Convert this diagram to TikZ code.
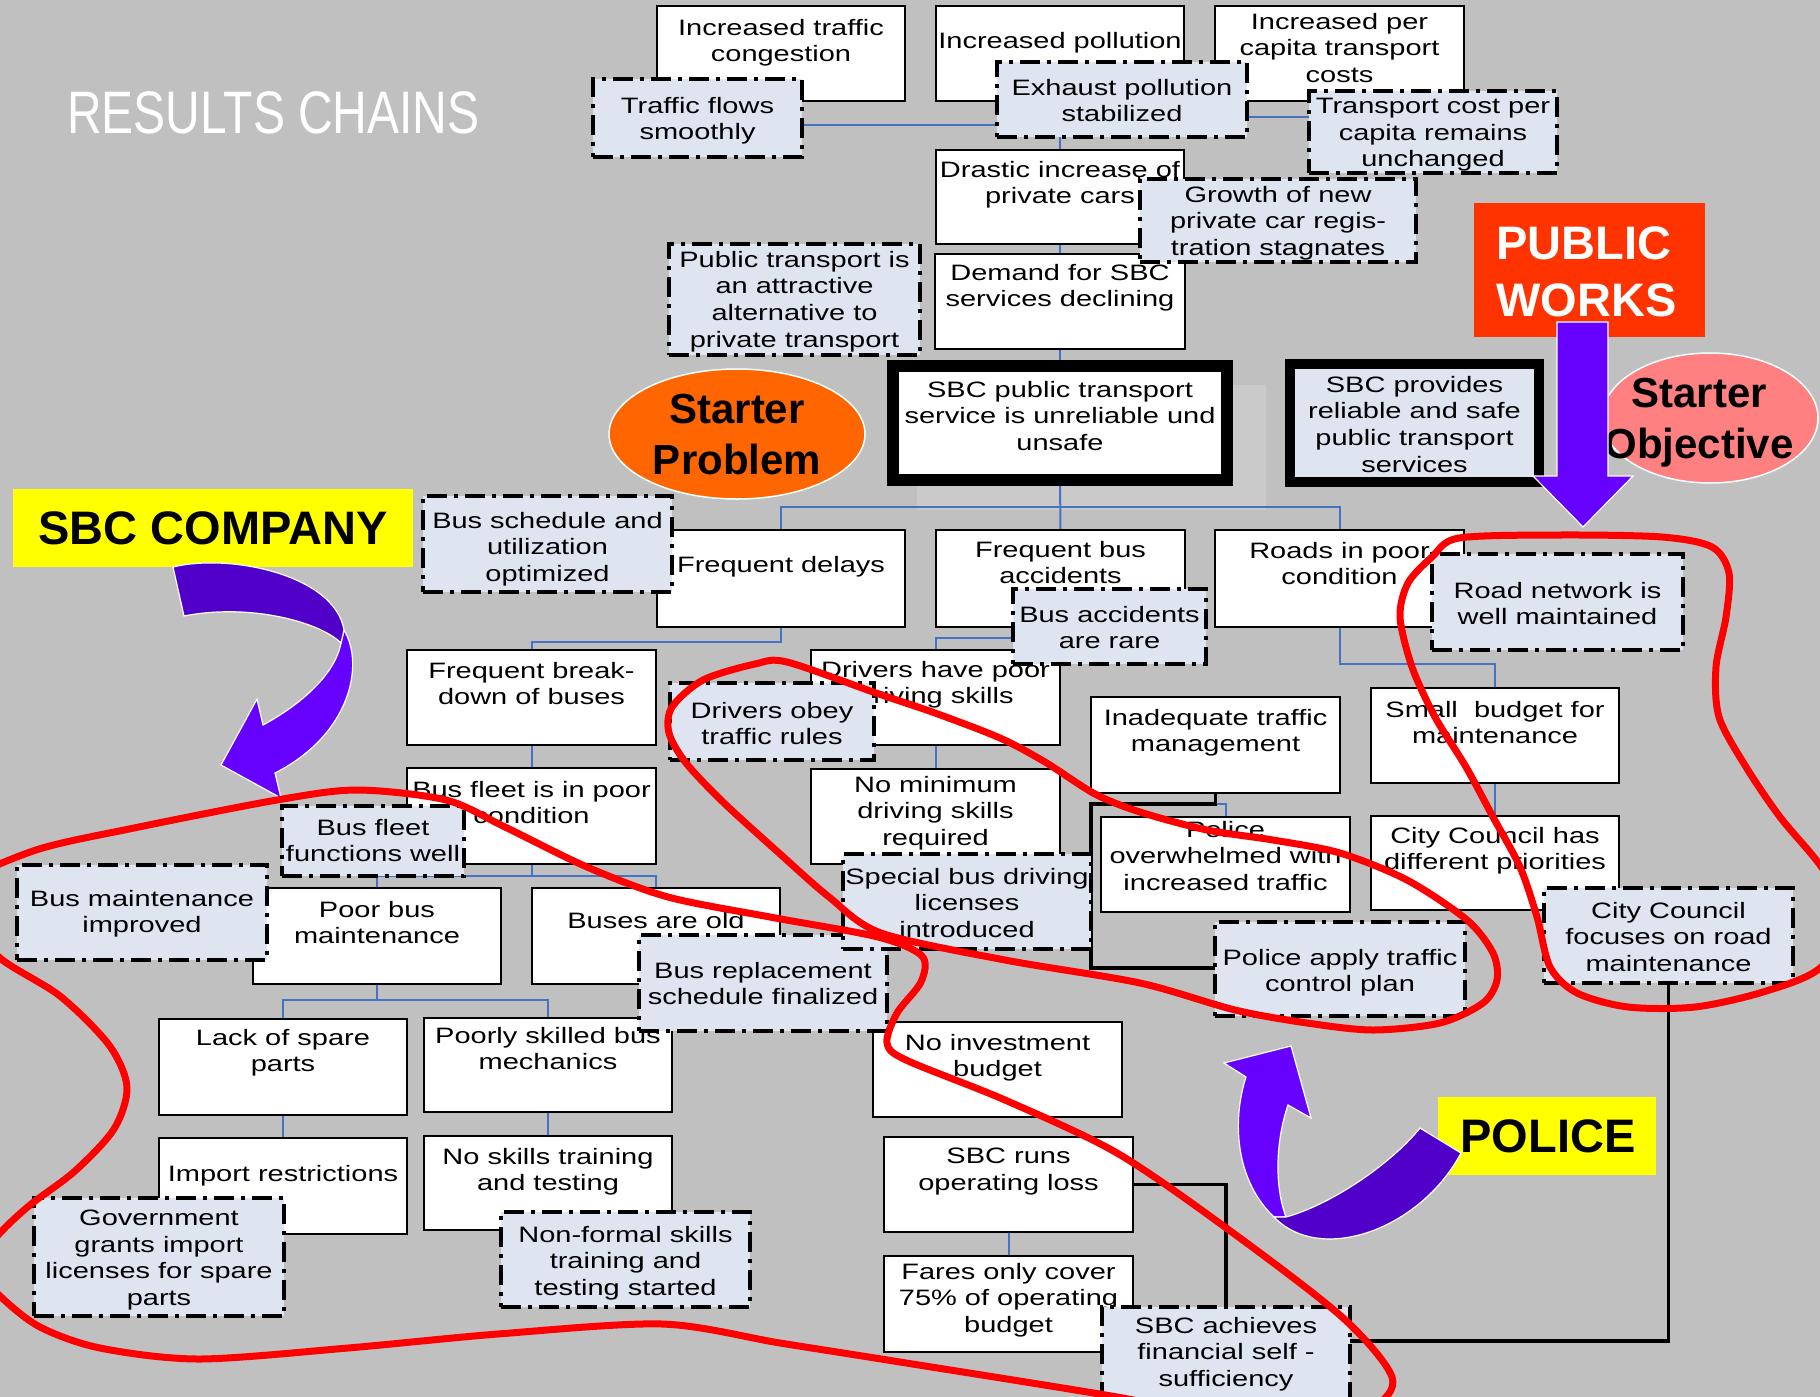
\documentclass[tikz,border=0pt]{standalone}
\usepackage{fontspec}
\setmainfont{Liberation Sans}
\newfontfamily\boxfont[FakeStretch=1.3]{Liberation Sans}
\newfontfamily\labfont{Liberation Sans}
\newfontfamily\titlefont[FakeStretch=0.8]{Liberation Sans}
\usetikzlibrary{shapes.geometric}
\definecolor{bgcol}{RGB}{192,192,192}
\definecolor{shadowgray}{RGB}{202,202,202}
\definecolor{goalfill}{RGB}{222,228,240}
\definecolor{connblue}{RGB}{68,114,196}
\definecolor{pwred}{RGB}{255,51,0}
\definecolor{yel}{RGB}{255,255,0}
\definecolor{orng}{RGB}{255,102,0}
\definecolor{objpink}{RGB}{255,128,128}
\definecolor{arrbright}{RGB}{102,0,255}
\definecolor{arrdark}{RGB}{80,0,200}
\pgfdeclarelayer{back}
\pgfdeclarelayer{conlayer}
\pgfsetlayers{back,conlayer,main}
\tikzset{
  wbox/.style={draw=black, line width=2.2pt, fill=white, inner sep=0pt, outer sep=0pt},
  gbox/.style={draw=black, line width=3.8pt, fill=goalfill, dash pattern=on 20pt off 7pt on 4pt off 7pt, inner sep=0pt, outer sep=0pt},
  corebox/.style={draw=black, line width=12pt, fill=white, inner sep=0pt, outer sep=0pt},
  objbox/.style={draw=black, line width=10pt, fill=goalfill, inner sep=0pt, outer sep=0pt},
  txt/.style={font={\boxfont\fontsize{22.3}{26.6}\selectfont}, align=center, inner sep=0pt, text=black},
  conn/.style={draw=connblue, line width=2pt},
  bconn/.style={draw=black, line width=3.5pt},
  redloop/.style={draw=red, line width=7pt, line cap=round, line join=round},
  arr/.style={draw=white, line width=1.2pt},
  labtxt/.style={font={\labfont\bfseries\fontsize{47}{57}\selectfont}, inner sep=0pt, anchor=north, align=center},
  startxt/.style={font={\labfont\bfseries\fontsize{42}{51}\selectfont}, inner sep=0pt, anchor=north, align=center},
}
\newcommand\bx[8]{%
  \node[#1, anchor=north west, minimum width={(#5-#3)*1pt}, minimum height={(#6-#4)*1pt}] (#2) at (#3,#4) {};
  \node[txt, anchor=north] (#2-t) at ({(#3+#5)/2},{#7-16}) {#8};
}
\begin{document}
\begin{tikzpicture}[x=1pt,y=-1pt]
\useasboundingbox (0,0) rectangle (1820,1397);
\begin{pgfonlayer}{back}
  \fill[bgcol] (0,0) rectangle (1820,1397);
  \fill[shadowgray] (917,385) rectangle (1266,510);
\end{pgfonlayer}

% title
\node[font={\titlefont\fontsize{60}{72}\selectfont}, text=white, anchor=base west, inner sep=0pt] (title) at (67,133) {RESULTS CHAINS};

% white boxes
\bx{wbox}{b1}{657}{6}{905}{101}{35}{Increased traffic\\congestion}
\bx{wbox}{b2}{936}{6}{1184}{101}{48}{Increased pollution}
\bx{wbox}{b3}{1215}{6}{1464}{101}{29}{Increased per\\capita transport\\costs}
\bx{wbox}{b4}{936}{150}{1184}{244}{177}{Drastic increase of\\private cars}
\bx{wbox}{b5}{935}{254}{1185}{349}{280}{Demand for SBC\\services declining}
\bx{wbox}{b6}{657}{530}{905}{627}{572}{Frequent delays}
\bx{wbox}{b7}{936}{530}{1185}{627}{557}{Frequent bus\\accidents}
\bx{wbox}{b8}{1215}{530}{1464}{627}{558}{Roads in poor\\condition}
\bx{wbox}{b9}{407}{650}{656}{745}{678}{Frequent break-\\down of buses}
\bx{wbox}{b10}{407}{768}{656}{864}{797}{Bus fleet is in poor\\condition}
\bx{wbox}{b11}{253}{888}{501}{984}{917}{Poor bus\\maintenance}
\bx{wbox}{b12}{532}{888}{780}{984}{928}{Buses are old}
\bx{wbox}{b13}{159}{1019}{407}{1115}{1045}{Lack of spare\\parts}
\bx{wbox}{b14}{424}{1018}{672}{1112}{1043}{Poorly skilled bus\\mechanics}
\bx{wbox}{b15}{159}{1138}{407}{1234}{1181}{Import restrictions}
\bx{wbox}{b16}{424}{1136}{672}{1230}{1164}{No skills training\\and testing}
\bx{wbox}{b17}{811}{650}{1060}{745}{677}{Drivers have poor\\driving skills}
\bx{wbox}{b18}{811}{769}{1060}{864}{792}{No minimum\\driving skills\\required}
\bx{wbox}{b19}{1091}{697}{1340}{793}{725}{Inadequate traffic\\management}
\bx{wbox}{b20}{1101}{817}{1350}{912}{837}{Police\\overwhelmed with\\increased traffic}
\bx{wbox}{b21}{1371}{688}{1619}{783}{717}{Small\ \ budget for\\maintenance}
\bx{wbox}{b22}{1371}{816}{1619}{910}{843}{City Council has\\different priorities}
\bx{wbox}{b23}{873}{1022}{1122}{1117}{1050}{No investment\\budget}
\bx{wbox}{b24}{884}{1137}{1133}{1232}{1164}{SBC runs\\operating loss}
\bx{wbox}{b25}{884}{1256}{1133}{1352}{1279}{Fares only cover\\75\% of operating\\budget}

% core problem and objective
\bx{corebox}{core}{893}{366}{1227}{480}{397}{SBC public transport\\service is unreliable und\\unsafe}
\bx{objbox}{obj}{1290}{364}{1539}{482}{392}{SBC provides\\reliable and safe\\public transport\\services}

% goal boxes
\bx{gbox}{g1}{593}{79}{802}{157}{113}{Traffic flows\\smoothly}
\bx{gbox}{g2}{997}{62}{1247}{137}{95}{Exhaust pollution\\stabilized}
\bx{gbox}{g3}{1309}{91}{1557}{173}{114}{Transport cost per\\capita remains\\unchanged}
\bx{gbox}{g4}{1140}{179}{1416}{262}{202}{Growth of new\\private car regis-\\tration stagnates}
\bx{gbox}{g5}{669}{244}{920}{355}{267}{Public transport is\\an attractive\\alternative to\\private transport}
\bx{gbox}{g6}{423}{496}{672}{592}{528}{Bus schedule and\\utilization\\optimized}
\bx{gbox}{g7}{1013}{589}{1206}{664}{622}{Bus accidents\\are rare}
\bx{gbox}{g8}{1432}{554}{1683}{650}{598}{Road network is\\well maintained}
\bx{gbox}{g9}{282}{806}{464}{876}{835}{Bus fleet\\functions well}
\bx{gbox}{g10}{17}{865}{267}{960}{906}{Bus maintenance\\improved}
\bx{gbox}{g11}{639}{935}{887}{1031}{978}{Bus replacement\\schedule finalized}
\bx{gbox}{g12}{34}{1198}{284}{1316}{1226}{Government\\grants import\\licenses for spare\\parts}
\bx{gbox}{g13}{501}{1212}{750}{1307}{1242}{Non-formal skills\\training and\\testing started}
\bx{gbox}{g14}{670}{683}{874}{760}{718}{Drivers obey\\traffic rules}
\bx{gbox}{g15}{843}{854}{1091}{949}{884}{Special bus driving\\licenses\\introduced}
\bx{gbox}{g16}{1215}{922}{1465}{1016}{965}{Police apply traffic\\control plan}
\bx{gbox}{g17}{1544}{888}{1793}{983}{918}{City Council\\focuses on road\\maintenance}
\bx{gbox}{g18}{1102}{1307}{1350}{1420}{1333}{SBC achieves\\financial self -\\sufficiency}

% connectors
\coordinate (yA) at (0,125);
\coordinate (yB) at (0,117);
\coordinate (yC) at (0,507);
\coordinate (yD) at (0,642);
\coordinate (yE) at (0,876);
\coordinate (yF) at (0,1000);
\coordinate (yG) at (0,638);
\coordinate (yH) at (0,804);
\coordinate (yI) at (0,968);
\coordinate (yJ) at (0,664);
\coordinate (yK) at (0,1341);
\begin{pgfonlayer}{conlayer}
  \draw[conn] (b2.south) -- (b4.north);
  \draw[conn] (g1.east |- yA) -- (g2.west |- yA);
  \draw[conn] (g2.east |- yB) -- (g3.west |- yB);
  \draw[conn] (b4.south) -- (b5.north);
  \draw[conn] (b5.south) -- (core.north);
  \draw[conn] (core.south) -- (b7.north);
  \draw[conn] (b6.north) -- (b6.north |- yC) -- (b8.north |- yC) -- (b8.north);
  \draw[conn] (b6.south) -- (b6.south |- yD) -- (b9.north |- yD) -- (b9.north);
  \draw[conn] (b9.south) -- (b10.north);
  \draw[conn] (b10.south) -- (b10.south |- yE);
  \draw[conn] (b11.north) -- (b11.north |- yE) -- (b12.north |- yE) -- (b12.north);
  \draw[conn] (b11.south) -- (b11.south |- yF);
  \draw[conn] (b13.north) -- (b13.north |- yF) -- (b14.north |- yF) -- (b14.north);
  \draw[conn] (b13.south) -- (b15.north);
  \draw[conn] (b14.south) -- (b16.north);
  \draw[conn] (b7.south) -- (b7.south |- yG) -- (b17.north |- yG) -- (b17.north);
  \draw[conn] (b17.south) -- (b18.north);
  \draw[conn] (b19.south) -- (b19.south |- yH) -- (b20.north |- yH) -- (b20.north);
  \draw[conn] (b8.south) -- (b8.south |- yJ) -- (b21.north |- yJ) -- (b21.north);
  \draw[conn] (b21.south) -- (b22.north);
  \draw[conn] (b24.south) -- (b25.north);
  \draw[bconn] (b19.south) -- (b19.south |- yH) -- (g15.east |- yH) -- (g15.east |- yI) -- (g16.west |- yI);
  \draw[bconn] (g17.south) -- (g17.south |- yK) -- (g18.east |- yK);
  \draw[bconn] (b24.east) -| (g18.north);
\end{pgfonlayer}

% labels
\node[fill=yel, anchor=north west, minimum width=400pt, minimum height=78pt, inner sep=0pt] (sbc) at (13,489) {};
\node[labtxt] (sbc-t) at (213,511) {SBC COMPANY};
\node[fill=yel, anchor=north west, minimum width=218pt, minimum height=78pt, inner sep=0pt] (pol) at (1438,1097) {};
\node[labtxt] (pol-t) at (1548,1119) {POLICE};
\node[fill=pwred, anchor=north west, minimum width=231pt, minimum height=134pt, inner sep=0pt] (pw) at (1474,203) {};
\node[labtxt, anchor=north west, align=left, text=white] (pw-t) at (1496,226) {PUBLIC\\WORKS};
\node[ellipse, fill=orng, draw=white, line width=1.5pt, minimum width=256pt, minimum height=130pt, inner sep=0pt] (sp) at (737,434) {};
\node[startxt] (sp-t) at (737,394) {Starter\\Problem};
\node[ellipse, fill=objpink, draw=white, line width=1.5pt, minimum width=216pt, minimum height=130pt, inner sep=0pt] (so) at (1710,418) {};
\node[startxt] (so-t) at (1699,378) {Starter\\Objective};

% arrows
\filldraw[fill=arrbright, arr] (1557,322) -- (1608,322) -- (1608,476) -- (1633,476) -- (1583,527) -- (1533,476) -- (1557,476) -- cycle;
\filldraw[fill=arrbright, arr] (344,630) .. controls (365,665) and (350,735) .. (275,773) -- (281,798) -- (221,765) -- (257,699) -- (263,725) .. controls (300,705) and (335,675) .. (341,643) -- cycle;
\filldraw[fill=arrdark, arr] (173,567) .. controls (230,553) and (335,575) .. (344,630) -- (341,643) .. controls (320,622) and (250,603) .. (184,616) -- cycle;
\filldraw[fill=arrbright, arr] (1274,1217) .. controls (1235,1180) and (1232,1120) .. (1246,1077) -- (1224,1063) -- (1291,1046) -- (1311,1118) -- (1288,1105) .. controls (1276,1140) and (1274,1185) .. (1286,1217) -- cycle;
\filldraw[fill=arrdark, arr] (1420,1128) -- (1461,1153) .. controls (1420,1230) and (1320,1265) .. (1274,1217) -- (1286,1217) .. controls (1330,1205) and (1390,1165) .. (1420,1128) -- cycle;

% red loops
\draw[redloop] plot[smooth cycle] coordinates {(-40,885) (36,850) (134,828) (277,800) (357,790) (446,800) (505,827) (587,867) (668,897) (770,917) (878,937) (922,956) (921,982) (897,1013) (887,1043) (906,1060) (1005,1100) (1117,1153) (1229,1230) (1342,1317) (1392,1377) (1372,1408) (1300,1432) (1200,1415) (1117,1397) (900,1362) (780,1343) (662,1324) (498,1334) (348,1348) (199,1359) (100,1348) (40,1327) (0,1296) (-25,1265) (0,1233) (30,1205) (75,1171) (114,1129) (127,1087) (109,1045) (60,996) (0,958) (-35,915)};
\draw[redloop] plot[smooth cycle] coordinates {(787,662) (876,693) (935,713) (1000,738) (1045,762) (1095,794) (1140,812) (1207,830) (1273,840) (1340,853) (1407,880) (1467,920) (1493,953) (1497,980) (1483,1003) (1440,1023) (1373,1030) (1307,1023) (1235,1010) (1140,983) (1005,960) (881,933) (829,897) (779,853) (724,803) (686,763) (669,733) (672,707) (703,680) (755,664)};
\draw[redloop] plot[smooth cycle] coordinates {(1459,538) (1560,535) (1662,537) (1712,547) (1729,573) (1726,617) (1716,667) (1719,717) (1746,767) (1780,817) (1820,865) (1850,915) (1820,968) (1763,992) (1695,1007) (1628,1007) (1577,993) (1550,967) (1537,917) (1520,867) (1493,817) (1466,767) (1435,717) (1412,667) (1400,617) (1408,583) (1432,557)};
\end{tikzpicture}
\end{document}
